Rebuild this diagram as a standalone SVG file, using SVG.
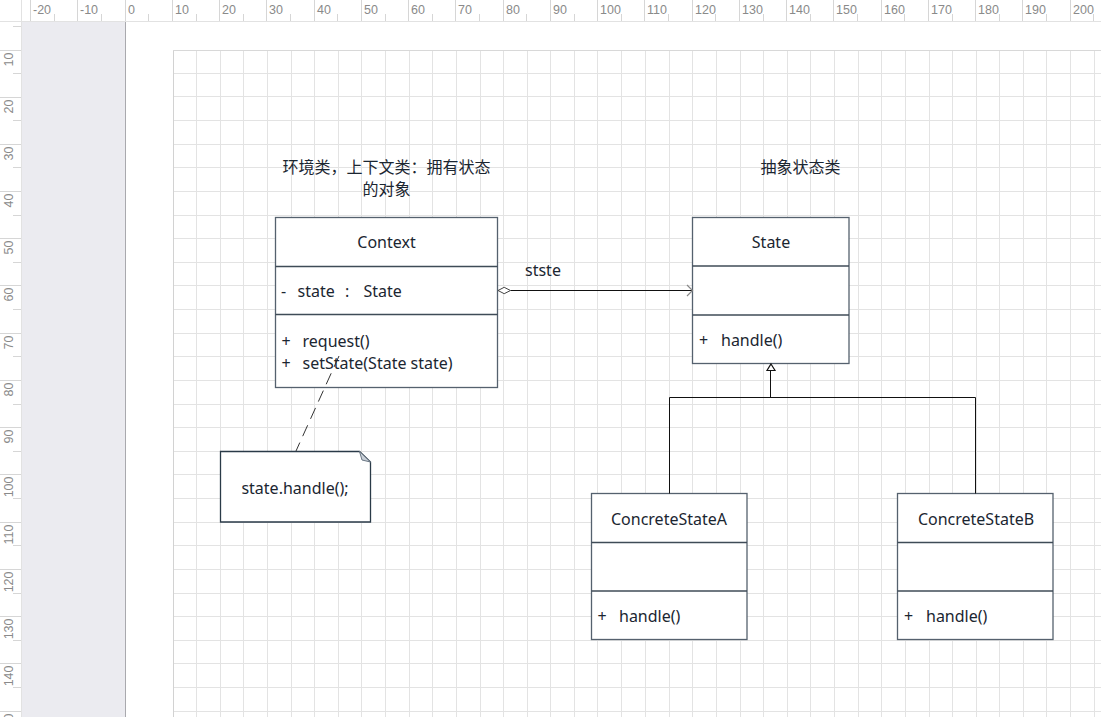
<svg xmlns="http://www.w3.org/2000/svg" width="1101" height="717" viewBox="0 0 1101 717">
<style>
.rl{font-family:"Liberation Sans",Arial,sans-serif;font-size:12.5px;fill:#8a8a8a}
.tk{stroke:#d6d6d6;stroke-width:1;fill:none}
.grid{stroke:#e3e3e3;stroke-width:1;fill:none}
.box{fill:#ffffff;stroke:#55616e;stroke-width:1.3}
.div{stroke:#3f4b57;stroke-width:1.3}
.t{font-family:"Noto Sans","Noto Sans CJK SC",sans-serif;font-size:16px;fill:#1b2631}
.c{text-anchor:middle}
.cjk{font-family:"Noto Sans CJK SC","Noto Sans",sans-serif;font-size:16px;fill:#1b2631;text-anchor:middle}
.ln{stroke:#111;stroke-width:1;fill:none}
</style>
<rect width="1101" height="717" fill="#ffffff"/>
<!-- sidebar -->
<rect x="21" y="22" width="104.5" height="695" fill="#ebebf0"/>
<line x1="125.5" y1="22" x2="125.5" y2="717" stroke="#a9a9ae" stroke-width="1"/>
<!-- page grid -->
<path class="grid" d="M173.5,50 V717 M196.5,50 V717 M220.5,50 V717 M243.5,50 V717 M267.5,50 V717 M291.5,50 V717 M314.5,50 V717 M338.5,50 V717 M361.5,50 V717 M385.5,50 V717 M409.5,50 V717 M432.5,50 V717 M456.5,50 V717 M480.5,50 V717 M503.5,50 V717 M527.5,50 V717 M550.5,50 V717 M574.5,50 V717 M597.5,50 V717 M621.5,50 V717 M645.5,50 V717 M669.5,50 V717 M692.5,50 V717 M716.5,50 V717 M740.5,50 V717 M763.5,50 V717 M787.5,50 V717 M810.5,50 V717 M834.5,50 V717 M858.5,50 V717 M881.5,50 V717 M905.5,50 V717 M929.5,50 V717 M952.5,50 V717 M976.5,50 V717 M999.5,50 V717 M1023.5,50 V717 M1046.5,50 V717 M1070.5,50 V717 M1094.5,50 V717
M173,50.5 H1101 M173,73.5 H1101 M173,96.5 H1101 M173,120.5 H1101 M173,144.5 H1101 M173,167.5 H1101 M173,191.5 H1101 M173,215.5 H1101 M173,238.5 H1101 M173,262.5 H1101 M173,285.5 H1101 M173,309.5 H1101 M173,333.5 H1101 M173,356.5 H1101 M173,380.5 H1101 M173,404.5 H1101 M173,427.5 H1101 M173,451.5 H1101 M173,474.5 H1101 M173,498.5 H1101 M173,522.5 H1101 M173,545.5 H1101 M173,569.5 H1101 M173,593.5 H1101 M173,616.5 H1101 M173,640.5 H1101 M173,663.5 H1101 M173,687.5 H1101 M173,711.5 H1101"/>
<line x1="173.5" y1="50" x2="173.5" y2="717" stroke="#d2d2d2"/>
<line x1="173" y1="50.5" x2="1101" y2="50.5" stroke="#d8d8d8"/>
<!-- top ruler -->
<g id="ruler-top">
<rect x="0" y="0" width="1101" height="21.5" fill="#ffffff"/>
<line x1="0" y1="21.5" x2="1101" y2="21.5" stroke="#e2e2e2"/>
<line x1="21.5" y1="0" x2="21.5" y2="21.5" stroke="#e2e2e2"/>
<path class="tk" d="M30.5,0 V21 M77.5,0 V21 M125.5,0 V21 M172.5,0 V21 M219.5,0 V21 M266.5,0 V21 M314.5,0 V21 M361.5,0 V21 M408.5,0 V21 M455.5,0 V21 M503.5,0 V21 M550.5,0 V21 M597.5,0 V21 M644.5,0 V21 M692.5,0 V21 M739.5,0 V21 M786.5,0 V21 M833.5,0 V21 M881.5,0 V21 M928.5,0 V21 M975.5,0 V21 M1022.5,0 V21 M1070.5,0 V21
M54.5,14 V21 M101.5,14 V21 M148.5,14 V21 M196.5,14 V21 M243.5,14 V21 M290.5,14 V21 M337.5,14 V21 M385.5,14 V21 M432.5,14 V21 M479.5,14 V21 M526.5,14 V21 M574.5,14 V21 M621.5,14 V21 M668.5,14 V21 M715.5,14 V21 M763.5,14 V21 M810.5,14 V21 M857.5,14 V21 M904.5,14 V21 M952.5,14 V21 M999.5,14 V21 M1046.5,14 V21 M1093.5,14 V21"/>
<text class="rl" x="33" y="14">-20</text>
<text class="rl" x="80" y="14">-10</text>
<text class="rl" x="128" y="14">0</text>
<text class="rl" x="175" y="14">10</text>
<text class="rl" x="222" y="14">20</text>
<text class="rl" x="269" y="14">30</text>
<text class="rl" x="317" y="14">40</text>
<text class="rl" x="364" y="14">50</text>
<text class="rl" x="411" y="14">60</text>
<text class="rl" x="458" y="14">70</text>
<text class="rl" x="506" y="14">80</text>
<text class="rl" x="553" y="14">90</text>
<text class="rl" x="600" y="14">100</text>
<text class="rl" x="647" y="14">110</text>
<text class="rl" x="695" y="14">120</text>
<text class="rl" x="742" y="14">130</text>
<text class="rl" x="789" y="14">140</text>
<text class="rl" x="836" y="14">150</text>
<text class="rl" x="884" y="14">160</text>
<text class="rl" x="931" y="14">170</text>
<text class="rl" x="978" y="14">180</text>
<text class="rl" x="1025" y="14">190</text>
<text class="rl" x="1073" y="14">200</text>
</g>
<!-- left ruler -->
<g id="ruler-left">
<rect x="0" y="22" width="21" height="695" fill="#ffffff"/>
<line x1="21.5" y1="22" x2="21.5" y2="717" stroke="#e2e2e2"/>
<path class="tk" d="M0,50.5 H21 M0,97.5 H21 M0,144.5 H21 M0,191.5 H21 M0,238.5 H21 M0,285.5 H21 M0,333.5 H21 M0,380.5 H21 M0,427.5 H21 M0,474.5 H21 M0,522.5 H21 M0,569.5 H21 M0,616.5 H21 M0,663.5 H21 M0,711.5 H21
M13,26.5 H21 M13,73.5 H21 M13,120.5 H21 M13,167.5 H21 M13,215.5 H21 M13,262.5 H21 M13,309.5 H21 M13,356.5 H21 M13,404.5 H21 M13,451.5 H21 M13,498.5 H21 M13,545.5 H21 M13,593.5 H21 M13,640.5 H21 M13,687.5 H21"/>
<g class="rl" text-anchor="end">
<text transform="translate(12.5,52.5) rotate(-90)">10</text>
<text transform="translate(12.5,99.5) rotate(-90)">20</text>
<text transform="translate(12.5,146.5) rotate(-90)">30</text>
<text transform="translate(12.5,193.5) rotate(-90)">40</text>
<text transform="translate(12.5,240.5) rotate(-90)">50</text>
<text transform="translate(12.5,287.5) rotate(-90)">60</text>
<text transform="translate(12.5,335.5) rotate(-90)">70</text>
<text transform="translate(12.5,382.5) rotate(-90)">80</text>
<text transform="translate(12.5,429.5) rotate(-90)">90</text>
<text transform="translate(12.5,476.5) rotate(-90)">100</text>
<text transform="translate(12.5,524.5) rotate(-90)">110</text>
<text transform="translate(12.5,571.5) rotate(-90)">120</text>
<text transform="translate(12.5,618.5) rotate(-90)">130</text>
<text transform="translate(12.5,665.5) rotate(-90)">140</text>
<text transform="translate(12.5,713.5) rotate(-90)">150</text>
</g>
</g>
<rect x="0" y="0" width="21" height="21" fill="#ffffff"/>

<!-- annotations -->
<g id="label-context">
<text class="cjk" x="386.5" y="173">环境类，上下文类：拥有状态</text>
<text class="cjk" x="386.5" y="195">的对象</text>
</g>
<g id="label-state">
<text class="cjk" x="800.5" y="173">抽象状态类</text>
</g>

<!-- nodes -->
<g id="Context">
<rect class="box" x="275.5" y="217.5" width="222" height="170"/>
<line class="div" x1="275.5" y1="266.5" x2="497.5" y2="266.5"/>
<line class="div" x1="275.5" y1="314.5" x2="497.5" y2="314.5"/>
<text class="t c" x="386.5" y="247.5">Context</text>
<text class="t" y="297"><tspan x="281">-</tspan><tspan x="297.5">state</tspan><tspan x="345">:</tspan><tspan x="363.5">State</tspan></text>
<text class="t" y="346.5"><tspan x="281.5">+</tspan><tspan x="302.5">request()</tspan></text>
<text class="t" y="369"><tspan x="281.5">+</tspan><tspan x="302.5">setState(State state)</tspan></text>
</g>
<g id="State">
<rect class="box" x="692.5" y="217.5" width="156.5" height="146"/>
<line class="div" x1="692.5" y1="266" x2="849" y2="266"/>
<line class="div" x1="692.5" y1="315" x2="849" y2="315"/>
<text class="t c" x="771" y="247.5">State</text>
<text class="t" y="345.5"><tspan x="699">+</tspan><tspan x="721">handle()</tspan></text>
</g>
<g id="ConcreteStateA">
<rect class="box" x="591.5" y="493.5" width="155.5" height="146"/>
<line class="div" x1="591.5" y1="542.5" x2="747" y2="542.5"/>
<line class="div" x1="591.5" y1="591" x2="747" y2="591"/>
<text class="t c" x="669" y="525">ConcreteStateA</text>
<text class="t" y="621.5"><tspan x="597.5">+</tspan><tspan x="619">handle()</tspan></text>
</g>
<g id="ConcreteStateB">
<rect class="box" x="897.5" y="493.5" width="155.5" height="146"/>
<line class="div" x1="897.5" y1="542.5" x2="1053" y2="542.5"/>
<line class="div" x1="897.5" y1="591" x2="1053" y2="591"/>
<text class="t c" x="976" y="525">ConcreteStateB</text>
<text class="t" y="621.5"><tspan x="904">+</tspan><tspan x="926">handle()</tspan></text>
</g>
<g id="Note">
<path d="M220.5,451.5 H359.5 L370.5,462 V522 H220.5 Z" fill="#ffffff" stroke="#2a3a48" stroke-width="1.3"/>
<path d="M359.5,451.5 L362,460 L370.5,462 Z" fill="#c9d0d8" stroke="#6b7784" stroke-width="1"/>
<text class="t c" x="295" y="493.5">state.handle();</text>
</g>

<!-- connectors -->
<g id="connectors">
<line class="ln" x1="510.5" y1="290.5" x2="692" y2="290.5"/>
<path d="M498,290.5 L504.2,287.3 L510.5,290.5 L504.2,293.7 Z" fill="#ffffff" stroke="#444" stroke-width="1"/>
<path d="M687,285 L692.5,290.5 L687,296" fill="none" stroke="#888" stroke-width="1.2"/>
<text class="t" x="525" y="275.5">stste</text>
<path d="M771,364 L775,370.5 L767,370.5 Z" fill="#ffffff" stroke="#111" stroke-width="1.2"/>
<path class="ln" d="M770.5,370.5 V397.5 M669.5,493.5 V397.5 H975.5 V493.5"/>
<line x1="339" y1="356" x2="296" y2="451" stroke="#333" stroke-width="1" stroke-dasharray="12 7"/>
</g>
</svg>
